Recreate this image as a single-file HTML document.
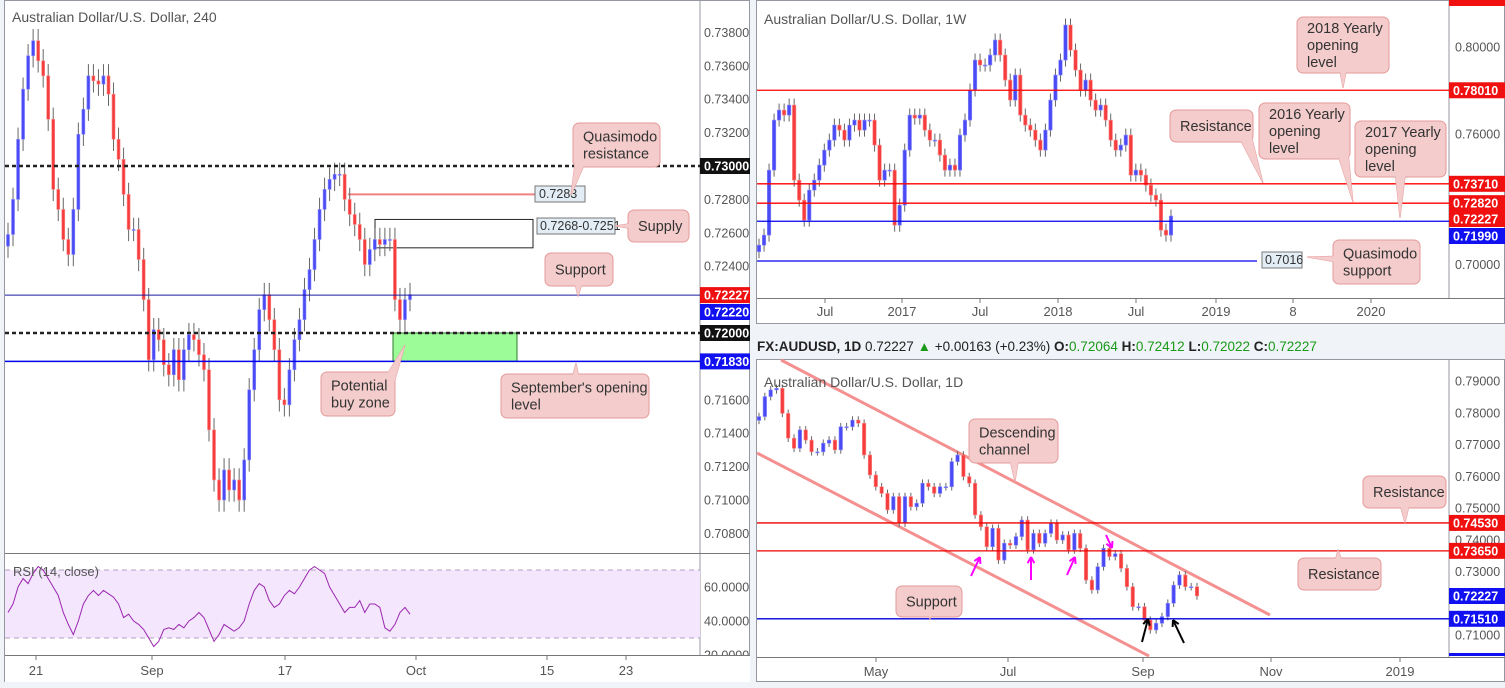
<!DOCTYPE html>
<html><head><meta charset="utf-8">
<style>
body{margin:0;background:#f0f3f7;width:1505px;height:688px;overflow:hidden;font-family:"Liberation Sans",sans-serif;}
svg{position:absolute;left:0;top:0}
</style></head>
<body>
<svg id="s" width="1505" height="688"></svg>
<script>
// ---- 4H data ----
const h4Closes=[0.7259,0.7280,0.7316,0.7346,0.7366,0.7375,0.7363,0.7354,0.7328,0.7286,0.7274,0.7256,0.7247,0.7274,0.7319,0.7334,0.7354,0.7351,0.7349,0.7354,0.7343,0.7316,0.7304,0.7283,0.7262,0.7262,0.7244,0.7220,0.7184,0.7202,0.7196,0.7181,0.7175,0.7190,0.7172,0.7190,0.7199,0.7196,0.7187,0.7178,0.7142,0.7112,0.7100,0.7118,0.7106,0.7112,0.7100,0.7124,0.7166,0.7190,0.7214,0.7223,0.7208,0.7190,0.7160,0.7157,0.7178,0.7196,0.7208,0.7226,0.7238,0.7256,0.7274,0.7286,0.7292,0.7295,0.7295,0.7280,0.7271,0.7265,0.7256,0.7241,0.7250,0.7256,0.7253,0.7256,0.7256,0.7220,0.7208,0.7220,0.7223];
const rsiValues=[45,50,60,65,62,68,72,70,65,60,55,45,38,32,40,50,55,58,55,58,56,54,50,42,44,40,38,35,30,25,28,35,36,35,38,36,40,42,45,42,35,28,32,38,36,34,36,40,50,58,62,60,52,48,50,55,58,56,60,65,70,72,70,68,60,55,50,45,48,48,52,45,50,50,48,36,34,38,45,48,44];
const h4Ticks=[0.738,0.736,0.734,0.732,0.728,0.726,0.724,0.716,0.714,0.712,0.710,0.708];
const h4XLabels=["21","Sep","17","Oct","15","23"];
const h4XPos=[36,152,285,416,547,626];
const rsiTicks=[60,40,20];
// ---- Weekly data ----
const wkCloses=[0.7089,0.7135,0.7434,0.7664,0.7710,0.7687,0.7733,0.7388,0.7296,0.7204,0.7342,0.7388,0.7457,0.7526,0.7572,0.7641,0.7618,0.7572,0.7641,0.7664,0.7618,0.7664,0.7664,0.7549,0.7388,0.7434,0.7434,0.7181,0.7273,0.7526,0.7687,0.7673,0.7687,0.7618,0.7572,0.7572,0.7503,0.7434,0.7457,0.7434,0.7595,0.7664,0.7802,0.7940,0.7917,0.7917,0.7963,0.8032,0.7963,0.7848,0.7756,0.7871,0.7687,0.7641,0.7618,0.7572,0.7526,0.7618,0.7756,0.7871,0.7940,0.8101,0.7986,0.7894,0.7802,0.7848,0.7756,0.7710,0.7733,0.7664,0.7572,0.7526,0.7549,0.7595,0.7411,0.7434,0.7411,0.7365,0.7319,0.7296,0.7158,0.7135,0.7223];
const wkTicks=[0.80,0.76,0.70];
const wkXLabels=["Jul","2017","Jul","2018","Jul","2019","8","2020"];
const wkXPos=[825,902,980,1058,1136,1216,1293,1371];
// ---- Daily data ----
const d1Closes=[0.7788,0.7851,0.7872,0.7877,0.7798,0.7720,0.7688,0.7746,0.7714,0.7677,0.7677,0.7704,0.7714,0.7683,0.7756,0.7756,0.7777,0.7767,0.7667,0.7604,0.7567,0.7546,0.7494,0.7536,0.7452,0.7536,0.7504,0.7515,0.7578,0.7567,0.7546,0.7567,0.7567,0.7646,0.7667,0.7599,0.7578,0.7478,0.7441,0.7378,0.7436,0.7336,0.7389,0.7383,0.7410,0.7462,0.7368,0.7420,0.7389,0.7420,0.7452,0.7399,0.7415,0.7368,0.7420,0.7373,0.7273,0.7242,0.7315,0.7373,0.7347,0.7356,0.7310,0.7252,0.7189,0.7189,0.7147,0.7116,0.7137,0.7158,0.7200,0.7257,0.7289,0.7252,0.7252,0.7223];
const d1Ticks=[0.79,0.78,0.77,0.76,0.75,0.74,0.73,0.71];
const d1XLabels=["May","Jul","Sep","Nov","2019"];
const d1XPos=[876,1008,1143,1271,1400];

const S=document.getElementById('s');
const NS='http://www.w3.org/2000/svg';
function el(tag,a,parent){const e=document.createElementNS(NS,tag);for(const k in a)e.setAttribute(k,a[k]);(parent||S).appendChild(e);return e;}
function txt(x,y,t,a,parent){const e=el('text',Object.assign({x:x,y:y,'font-size':13,fill:'#444'},a||{}),parent);e.textContent=t;return e;}

let p=el('rect',{x:4.5,y:0.5,width:745,height:681,fill:'#fff',stroke:'#9598a1'});

p=el('rect',{x:756.5,y:0.5,width:748,height:323,fill:'#fff',stroke:'#9598a1'});

p=el('rect',{x:756.5,y:359.5,width:748,height:322,fill:'#fff',stroke:'#9598a1'});


function candles(closes,x0,x1,yF,wick,bw,name){
  const g=el('g',{});
  const step=(x1-x0)/(closes.length-1);
  closes.forEach((c,i)=>{
    const o=i?closes[i-1]:c-wick;const x=x0+i*step;
    const hi=Math.max(o,c)+wick,lo=Math.min(o,c)-wick;
    el('line',{x1:x,x2:x,y1:yF(hi),y2:yF(lo),stroke:'#666','stroke-width':1},g);
    const up=c>=o;const yt=yF(Math.max(o,c)),yb=yF(Math.min(o,c));
    const r=el('rect',{x:x-bw/2,y:yt,width:bw,height:Math.max(1,yb-yt),fill:up?'#4b4bf5':'#f53d3d',stroke:up?'#8a8aff':'#ff8a8a','stroke-width':0.6},g);
    
  });
}
function tag(x,y,w,t,bg,name){
  const g=el('g',{});
  el('rect',{x:x,y:y-8,width:w,height:16,fill:bg},g);
  txt(x+4,y+4.5,t,{fill:'#fff','font-size':12.5,'font-weight':'bold'},g);
}
function callout(bx,by,bw,bh,tx,ty,lines,name){
  const g=el('g',{});
  const cx=bx+bw/2,cy=by+bh/2;
  const dx=tx-cx,dy=ty-cy;let a,b;
  if(Math.abs(dy)*bw>Math.abs(dx)*bh){a=[cx-8,cy];b=[cx+8,cy];if(tx<bx+10||tx>bx+bw-10){a=[Math.min(Math.max(tx,bx+12),bx+bw-12)-8,cy];b=[a[0]+16,cy];}}
  else{a=[cx,cy-7];b=[cx,cy+7];}
  el('polygon',{points:`${a[0]},${a[1]} ${tx},${ty} ${b[0]},${b[1]}`,fill:'#f4cccc',stroke:'#e59a9a'},g);
  el('rect',{x:bx,y:by,width:bw,height:bh,rx:6,fill:'#f4cccc',stroke:'#e59a9a'},g);
  el('polygon',{points:`${a[0]},${a[1]} ${tx},${ty} ${b[0]},${b[1]}`,fill:'#f4cccc',stroke:'none'},g);
  el('rect',{x:bx+1,y:by+1,width:bw-2,height:bh-2,rx:5,fill:'#f4cccc'},g);
  const y0=cy-(lines.length-1)*8.5+5;
  lines.forEach((l,i)=>txt(bx+10,y0+i*17,l,{fill:'#333','font-size':14.5},g));
}
function hline(x1,x2,y,col,dash,w,name){const l=el('line',{x1:x1,x2:x2,y1:y,y2:y,stroke:col,'stroke-width':w||1,'stroke-dasharray':dash||'none'});}

// ===== 4H =====
const yH=v=>166+(0.73-v)*16700;
el('line',{x1:700,x2:700,y1:0,y2:655,stroke:'#9598a1'});
h4Ticks.forEach(t=>txt(704,yH(t)+4.5,t.toFixed(5),{'font-size':12.5,fill:'#555'}));
el('rect',{x:393,y:yH(0.72),width:124,height:yH(0.7183)-yH(0.72),fill:'#9cfc98',stroke:'#2b7a2b'});
el('rect',{x:375,y:yH(0.7268),width:158,height:yH(0.7251)-yH(0.7268),fill:'none',stroke:'#222'});
hline(348,535,yH(0.7283),'#f08080',null,2,'quasimodo-line');
candles(h4Closes,8,410,yH,0.0007,3,'h4-candles');
hline(5,700,yH(0.73),'#222','4,3',2.5,'level-0.7300');
hline(5,700,yH(0.72),'#222','4,3',2.5,'level-0.7200');
hline(5,700,yH(0.72227),'#1a1aa0',null,1,'support-line');
hline(5,700,yH(0.7183),'#0000ee',null,1.5,'september-open-line');
el('rect',{x:535,y:186,width:50,height:16,fill:'#e3edf5',stroke:'#777'});
txt(539,198,'0.7283',{'font-size':12.5,fill:'#333'});
el('rect',{x:537,y:218,width:78,height:16,fill:'#e3edf5',stroke:'#777'});
txt(540,230,'0.7268-0.7251',{'font-size':12.5,fill:'#333'});
tag(700,yH(0.73),50,'0.73000','#111','tag-0.73000');
tag(700,yH(0.72227),50,'0.72227','#f01010','tag-0.72227');
tag(700,312,50,'0.72220','#1010f0','tag-0.72220');
tag(700,yH(0.72),50,'0.72000','#111','tag-0.72000');
tag(700,yH(0.7183),50,'0.71830','#1010f0','tag-0.71830');
txt(12,22,'Australian Dollar/U.S. Dollar, 240',{'font-size':14,fill:'#555'});
callout(573,123,87,44,571,195,['Quasimodo','resistance'],'callout-quasimodo-resistance');
callout(628,210,61,32,615,226,['Supply'],'callout-supply');
callout(545,253,68,33,578,296,['Support'],'callout-support');
callout(321,372,74,44,405,345,['Potential','buy zone'],'callout-potential-buy-zone');
callout(501,374,148,44,576,363,["September's opening",'level'],'callout-september-open');
// RSI
el('line',{x1:5,x2:750,y1:553.5,y2:553.5,stroke:'#777'});
const yR=v=>570+(70-v)*1.7;
el('rect',{x:5,y:yR(70),width:695,height:yR(30)-yR(70),fill:'#f3e6fd'});
hline(5,700,yR(70),'#b0a0c0','5,4',1,'rsi-70');
hline(5,700,yR(30),'#b0a0c0','5,4',1,'rsi-30');
rsiTicks.forEach(t=>txt(704,yR(t)+4.5,t.toFixed(4),{'font-size':12.5,fill:'#555'}));
{const step=(410-8)/(rsiValues.length-1);
const pl=el('polyline',{points:rsiValues.map((v,i)=>`${8+i*step},${yR(v)}`).join(' '),fill:'none',stroke:'#9c27b0','stroke-width':1});
}
txt(13,576,'RSI (14, close)',{'font-size':13,fill:'#555'});
el('rect',{x:5,y:655,width:745,height:27,fill:'#fff'});
el('line',{x1:5,x2:750,y1:655.5,y2:655.5,stroke:'#777'});
h4XLabels.forEach((l,i)=>{el('line',{x1:h4XPos[i],x2:h4XPos[i],y1:655,y2:660,stroke:'#777'});txt(h4XPos[i],675,l,{'text-anchor':'middle','font-size':13,fill:'#555'});});

// ===== Weekly =====
const yW=v=>47+(0.80-v)*2175;
el('line',{x1:1449,x2:1449,y1:0,y2:298,stroke:'#9598a1'});
el('line',{x1:757,x2:1505,y1:298.5,y2:298.5,stroke:'#777'});
wkTicks.forEach(t=>txt(1455,yW(t)+4.5,t.toFixed(5),{'font-size':12.5,fill:'#555'}));
wkXLabels.forEach((l,i)=>{el('line',{x1:wkXPos[i],x2:wkXPos[i],y1:298,y2:303,stroke:'#777'});txt(wkXPos[i],316,l,{'text-anchor':'middle','font-size':13,fill:'#555'});});
candles(wkCloses,759,1171,yW,0.003,3.5,'weekly-candles');
hline(757,1449,yW(0.7801),'#f00',null,1.3,'level-2018-open');
hline(757,1449,yW(0.7371),'#f00',null,1.3,'level-resistance');
hline(757,1449,yW(0.7282),'#f00',null,1.3,'level-2016-open');
hline(757,1449,yW(0.7199),'#00e',null,1.3,'level-2017-open');
hline(757,1257,yW(0.7016),'#00e',null,1.3,'level-quasimodo-support');
el('rect',{x:1262,y:252,width:40,height:16,fill:'#e3edf5',stroke:'#777'});
txt(1265,264,'0.7016',{'font-size':12.5,fill:'#333'});
el('rect',{x:1449,y:0,width:56,height:6,fill:'#f01010'});
tag(1449,yW(0.7801),56,'0.78010','#f01010','tag-0.78010');
tag(1449,yW(0.7371),56,'0.73710','#f01010','tag-0.73710');
tag(1449,yW(0.7282),56,'0.72820','#f01010','tag-0.72820');
tag(1449,219,56,'0.72227','#f01010','tag-w-0.72227');
tag(1449,236,56,'0.71990','#1010f0','tag-0.71990');
txt(764,24,'Australian Dollar/U.S. Dollar, 1W',{'font-size':14,fill:'#555'});
callout(1297,17,92,56,1343,88,['2018 Yearly','opening','level'],'callout-2018-open');
callout(1170,110,83,32,1263,183,['Resistance'],'callout-w-resistance');
callout(1259,103,91,56,1353,202,['2016 Yearly','opening','level'],'callout-2016-open');
callout(1355,121,91,56,1400,218,['2017 Yearly','opening','level'],'callout-2017-open');
callout(1333,240,87,44,1307,257,['Quasimodo','support'],'callout-quasimodo-support');

// ===== Daily =====
const yD=v=>381+(0.79-v)*3175;
const hd=el('text',{x:757,y:351,'font-size':13.5,fill:'#222'});
hd.innerHTML='<tspan font-weight="bold">FX:AUDUSD, 1D</tspan> 0.72227 <tspan fill="#1a9a1a">▲</tspan> +0.00163 (+0.23%) <tspan font-weight="bold">O:</tspan><tspan fill="#1a9a1a">0.72064</tspan> <tspan font-weight="bold">H:</tspan><tspan fill="#1a9a1a">0.72412</tspan> <tspan font-weight="bold">L:</tspan><tspan fill="#1a9a1a">0.72022</tspan> <tspan font-weight="bold">C:</tspan><tspan fill="#1a9a1a">0.72227</tspan>';
el('line',{x1:1449,x2:1449,y1:360,y2:657,stroke:'#9598a1'});
el('line',{x1:757,x2:1505,y1:657.5,y2:657.5,stroke:'#777'});
d1Ticks.forEach(t=>txt(1455,yD(t)+4.5,t.toFixed(5),{'font-size':12.5,fill:'#555'}));
d1XLabels.forEach((l,i)=>{el('line',{x1:d1XPos[i],x2:d1XPos[i],y1:657,y2:662,stroke:'#777'});txt(d1XPos[i],676,l,{'text-anchor':'middle','font-size':13,fill:'#555'});});
let ch=el('line',{x1:781,y1:360,x2:1270,y2:615,stroke:'#f59090','stroke-width':3});
ch=el('line',{x1:757,y1:453,x2:1149,y2:656,stroke:'#f59090','stroke-width':3});
candles(d1Closes,759,1197,yD,0.0012,3.5,'daily-candles');
hline(757,1449,yD(0.7453),'#e00',null,1.3,'level-0.7453');
hline(757,1449,yD(0.7365),'#e00',null,1.3,'level-0.7365');
hline(757,1449,yD(0.7151),'#00d',null,1.3,'level-0.7151');
tag(1449,yD(0.7453),56,'0.74530','#f01010','tag-0.74530');
tag(1449,yD(0.7365),56,'0.73650','#f01010','tag-0.73650');
tag(1449,596,56,'0.72227','#1010f0','tag-d-0.72227');
tag(1449,yD(0.7151),56,'0.71510','#1010f0','tag-0.71510');
el('rect',{x:1449,y:653,width:56,height:3,fill:'#1010f0'});
txt(764,387,'Australian Dollar/U.S. Dollar, 1D',{'font-size':14,fill:'#555'});
callout(969,419,89,44,1015,482,['Descending','channel'],'callout-descending-channel');
callout(1363,476,83,32,1405,523,['Resistance'],'callout-d-resistance-upper');
callout(1298,558,83,32,1338,550,['Resistance'],'callout-d-resistance-lower');
callout(896,586,66,31,930,619,['Support'],'callout-d-support');
function arrow(x1,y1,x2,y2,col,name){const g=el('g',{stroke:col,'stroke-width':2,fill:'none'});
 el('line',{x1:x1,y1:y1,x2:x2,y2:y2},g);const a=Math.atan2(y2-y1,x2-x1);
 [0.5,-0.5].forEach(d=>el('line',{x1:x2,y1:y2,x2:x2-7*Math.cos(a+d),y2:y2-7*Math.sin(a+d)},g));}
arrow(971,576,980,557,'#f0f','arrow-1');arrow(1031,580,1031,557,'#f0f','arrow-2');
arrow(1067,575,1075,557,'#f0f','arrow-3');arrow(1106,535,1112,548,'#f0f','arrow-4');
arrow(1142,642,1148,619,'#000','arrow-low-1');arrow(1184,643,1173,620,'#000','arrow-low-2');
</script>
</body></html>
